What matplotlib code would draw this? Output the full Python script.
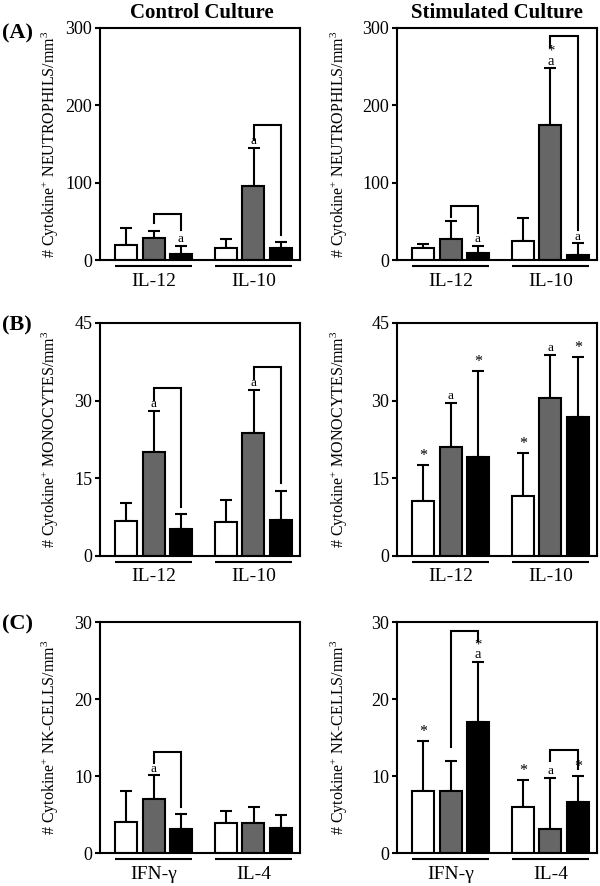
"""
Cytokine+ cell counts: control vs stimulated culture, three cell types.
"""
import matplotlib
matplotlib.use("Agg")
import matplotlib.pyplot as plt

plt.rcParams["font.family"] = ["Liberation Serif", "DejaVu Serif"]
plt.rcParams["mathtext.fontset"] = "custom"
plt.rcParams["mathtext.rm"] = "Liberation Serif"
plt.rcParams["mathtext.it"] = "Liberation Serif:italic"

# ── data ────────────────────────────────────────────────
bar_colors = ["white", "#666666", "black"]

neut_groups = ["IL-12", "IL-10"]
neut_ctrl_mean = [[19, 29, 8], [15, 96, 16]]
neut_ctrl_sd = [[22, 8.5, 10.5], [12, 49, 7]]
neut_stim_mean = [[16, 27, 9], [25, 174, 6.5]]
neut_stim_sd = [[4.5, 23, 9], [29, 74, 15]]

mono_groups = ["IL-12", "IL-10"]
mono_ctrl_mean = [[6.8, 20, 5.2], [6.6, 23.7, 6.9]]
mono_ctrl_sd = [[3.5, 8, 3.0], [4.2, 8.4, 5.6]]
mono_stim_mean = [[10.7, 21, 19.2], [11.6, 30.5, 26.8]]
mono_stim_sd = [[6.9, 8.6, 16.6], [8.3, 8.4, 11.6]]

nk_groups = ["IFN-γ", "IL-4"]
nk_ctrl_mean = [[4.0, 7.0, 3.15], [3.9, 3.9, 3.2]]
nk_ctrl_sd = [[4.1, 3.1, 1.95], [1.6, 2.1, 1.8]]
nk_stim_mean = [[8.1, 8.1, 17.05], [6.0, 3.15, 6.6]]
nk_stim_sd = [[6.5, 3.9, 7.75], [3.5, 6.6, 3.45]]

# significance marks: (group, bar, text)
neut_ctrl_marks = [(0, 2, "a"), (1, 1, "a")]
neut_stim_marks = [(0, 2, "a"), (1, 1, "*\na"), (1, 2, "a")]
mono_ctrl_marks = [(0, 1, "a"), (1, 1, "a")]
mono_stim_marks = [(0, 0, "*"), (0, 1, "a"), (0, 2, "*"),
                   (1, 0, "*"), (1, 1, "a"), (1, 2, "*")]
nk_ctrl_marks = [(0, 1, "a")]
nk_stim_marks = [(0, 0, "*"), (0, 2, "*\na"), (1, 0, "*"), (1, 1, "a"), (1, 2, "*")]

# brackets gray -> black: (group, top, left leg end, right leg end)
neut_ctrl_brackets = [(0, 60, 48, 39), (1, 174, 155, 32)]
neut_stim_brackets = [(0, 70, 56, 34.5), (1, 290, 276, 39)]
mono_ctrl_brackets = [(0, 32.5, 30.1, 9.4), (1, 36.5, 34.2, 14.1)]
mono_stim_brackets = []
nk_ctrl_brackets = [(0, 13.1, 11.65, 5.96)]
nk_stim_brackets = [(0, 28.9, 13.8, 27.6), (1, 13.4, 12.0, 10.9)]

# ── layout ──────────────────────────────────────────────
GROUP_X = [0.2675, 0.7675]
OFFSETS = [-0.1375, 0.0, 0.1375]
BAR_W = 0.11
LW = 1.5
MARK_SIZE = {"a": 9.5, "*": 11.5, "*\na": 10.5}


def draw_panel(ax, groups, means, sds, ymax, ystep, ylabel, marks, brackets, label_x):
    for g, gx in enumerate(GROUP_X):
        xs = [gx + o for o in OFFSETS]
        ax.bar(xs, means[g], width=BAR_W, color=bar_colors,
               edgecolor="black", linewidth=LW, zorder=2)
        ax.errorbar(xs, means[g], yerr=[[0, 0, 0], sds[g]], fmt="none",
                    ecolor="black", elinewidth=LW, capsize=4.5, capthick=LW, zorder=1)
        # underline under the group
        ax.plot([xs[0] - BAR_W / 2, xs[2] + BAR_W / 2], [-0.026, -0.026],
                transform=ax.get_xaxis_transform(), color="black",
                lw=LW, clip_on=False, solid_capstyle="butt")

    for g, b, txt in marks:
        x = GROUP_X[g] + OFFSETS[b]
        top = means[g][b] + sds[g][b]
        ax.annotate(txt, (x, top), xytext=(0, 0.5), textcoords="offset points",
                    ha="center", va="bottom", fontsize=MARK_SIZE[txt],
                    linespacing=0.72)

    for g, top, left_end, right_end in brackets:
        xl = GROUP_X[g] + OFFSETS[1]
        xr = GROUP_X[g] + OFFSETS[2]
        ax.plot([xl, xl, xr, xr], [left_end, top, top, right_end],
                color="black", lw=LW, solid_joinstyle="miter")

    ax.set_xlim(0, 1)
    ax.set_ylim(0, ymax)
    ax.set_yticks([ystep * i for i in range(4)])
    ax.set_xticks(GROUP_X, groups)
    ax.tick_params(axis="x", length=0, pad=9, labelsize=14)
    ax.tick_params(axis="y", direction="out", length=3.5, width=LW, pad=2, labelsize=13)
    for sp in ax.spines.values():
        sp.set_linewidth(LW)
    ax.set_ylabel(ylabel, fontsize=11.5)
    ax.yaxis.set_label_coords(label_x, 0.5)


fig = plt.figure(figsize=(6, 8.86), dpi=100)

rows = [
    (0.7065, 0.2619, neut_groups, 300, 100,
     r"# Cytokine$^{+}$ NEUTROPHILS/mm$^{3}$",
     (neut_ctrl_mean, neut_ctrl_sd, neut_ctrl_marks, neut_ctrl_brackets),
     (neut_stim_mean, neut_stim_sd, neut_stim_marks, neut_stim_brackets)),
    (0.3725, 0.2630, mono_groups, 45, 15,
     r"# Cytokine$^{+}$ MONOCYTES/mm$^{3}$",
     (mono_ctrl_mean, mono_ctrl_sd, mono_ctrl_marks, mono_ctrl_brackets),
     (mono_stim_mean, mono_stim_sd, mono_stim_marks, mono_stim_brackets)),
    (0.0372, 0.2607, nk_groups, 30, 10,
     r"# Cytokine$^{+}$ NK-CELLS/mm$^{3}$",
     (nk_ctrl_mean, nk_ctrl_sd, nk_ctrl_marks, nk_ctrl_brackets),
     (nk_stim_mean, nk_stim_sd, nk_stim_marks, nk_stim_brackets)),
]

for bottom, height, groups, ymax, ystep, ylabel, ctrl, stim in rows:
    ax_l = fig.add_axes([100 / 600, bottom, 200 / 600, height])
    draw_panel(ax_l, groups, ctrl[0], ctrl[1], ymax, ystep, ylabel, ctrl[2], ctrl[3], -0.195)
    ax_r = fig.add_axes([397 / 600, bottom, 200 / 600, height])
    draw_panel(ax_r, groups, stim[0], stim[1], ymax, ystep, ylabel, stim[2], stim[3], -0.235)

# titles & panel letters
fig.text(202 / 600, 1 - 13 / 886, "Control Culture", ha="center", va="center",
         fontsize=15, fontweight="bold")
fig.text(497 / 600, 1 - 13 / 886, "Stimulated Culture", ha="center", va="center",
         fontsize=15, fontweight="bold")
for letter, ypx in [("(A)", 33), ("(B)", 325), ("(C)", 624)]:
    fig.text(2 / 600, 1 - ypx / 886, letter, ha="left", va="center",
             fontsize=16, fontweight="bold")

fig.savefig("out.png", dpi=100)
